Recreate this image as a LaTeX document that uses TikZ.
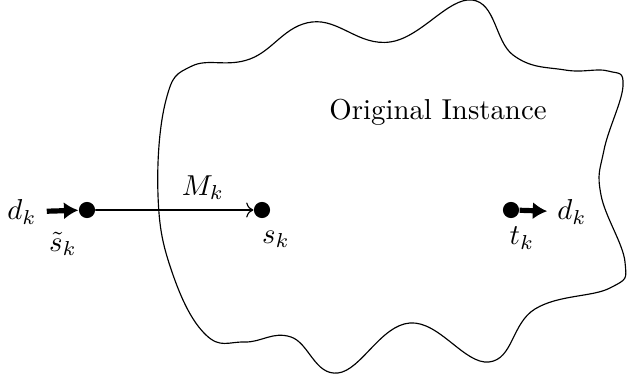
\documentclass[tikz,border=0pt]{standalone}
\usetikzlibrary{arrows.meta,positioning}
\begin{document}
\begin{tikzpicture}[x=0.347pt,y=-0.347pt,line cap=round,line join=round]
\tikzset{dot/.style={circle,fill=black,inner sep=0pt,minimum size=5.6pt},
  flow/.style={line width=1.8pt,line cap=butt,-{Latex[length=5pt,width=6pt]}},
  blob/.style={draw=black,line width=0.4pt}}
\useasboundingbox (0,0) rectangle (627,381);
% the original instance
\draw[blob] plot[smooth cycle,tension=0.7] coordinates {
  (158,195) (166,100) (192,66) (250,59) (312,22) (390,42) (472,0) (513,55)
  (565,70) (608,71) (623,86) (604,150) (601,195) (625,262) (610,288) (535,309)
  (489,362) (410,323) (338,373) (291,337) (245,342) (206,335) (172,272)};
\node (title) at (438,112) {Original Instance};
% terminals
\node[dot] (sin) at (87,210) {};
\node[dot] (s) at (262,210) {};
\node[dot] (t) at (511,210) {};
\node (din) at (22,212) {$d_k$};
\node (dout) at (572,212) {$d_k$};
\node (sinlbl) at (63,244) {$\tilde{s}_k$};
\node (slbl) at (276,239) {$s_k$};
\node (tlbl) at (522,238) {$t_k$};
\draw[flow] (din) -- (sin);
\draw[flow] (t) -- (dout);
\draw[->] (sin) -- node[pos=0.68,above] (mk) {$M_k$} (s);
\end{tikzpicture}
\end{document}
